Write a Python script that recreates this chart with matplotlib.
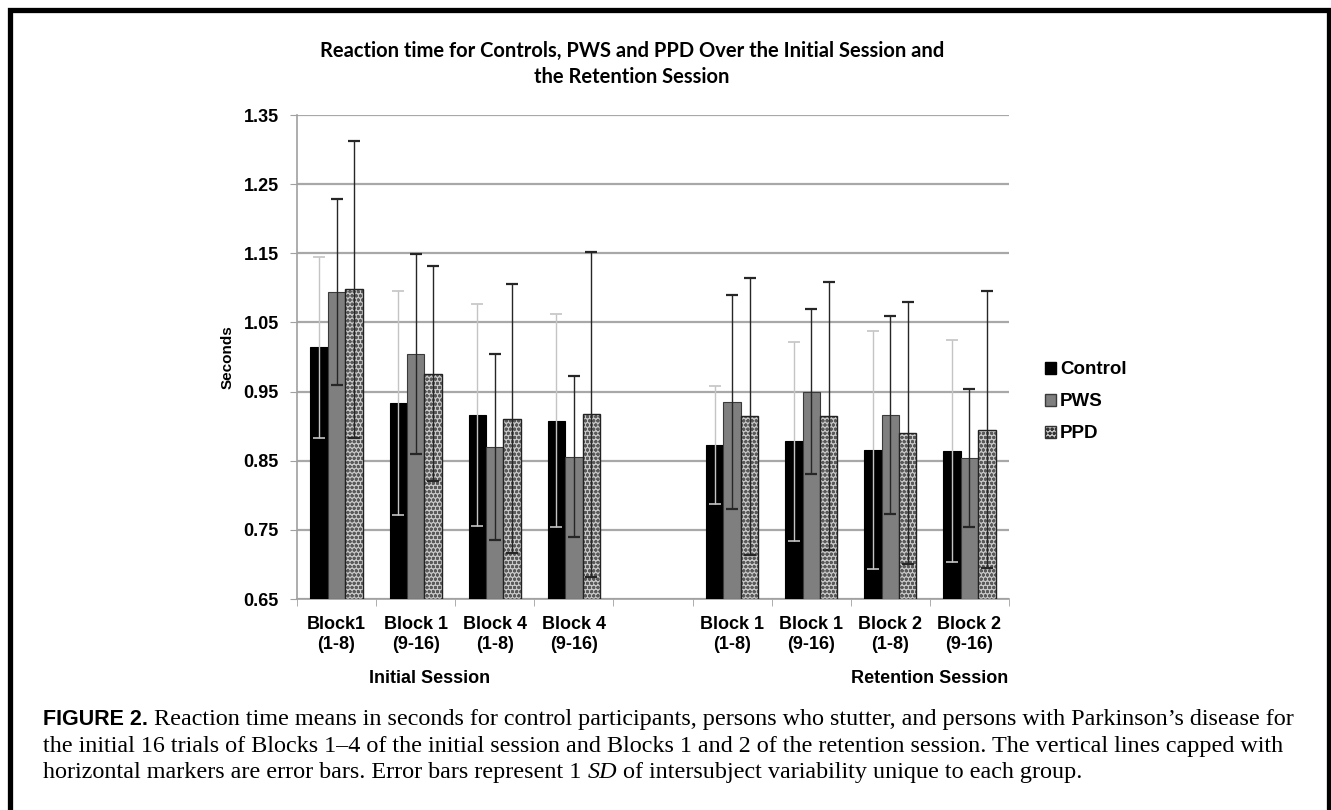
import matplotlib.pyplot as plt
import numpy as np

# category labels (slot 4 is the empty gap between sessions)
cat_labels = ['Block1\n(1-8)', 'Block 1\n(9-16)', 'Block 4\n(1-8)', 'Block 4\n(9-16)', '',
              'Block 1\n(1-8)', 'Block 1\n(9-16)', 'Block 2\n(1-8)', 'Block 2\n(9-16)']
cat_pos = [0, 1, 2, 3, 5, 6, 7, 8]

control_mean = [1.014, 0.934, 0.916, 0.908, 0.873, 0.878, 0.866, 0.864]
control_sd = [0.131, 0.162, 0.161, 0.154, 0.085, 0.144, 0.172, 0.161]
pws_mean = [1.094, 1.004, 0.870, 0.856, 0.935, 0.950, 0.916, 0.854]
pws_sd = [0.134, 0.145, 0.135, 0.117, 0.155, 0.119, 0.143, 0.100]
ppd_mean = [1.098, 0.976, 0.911, 0.917, 0.914, 0.915, 0.890, 0.895]
ppd_sd = [0.215, 0.156, 0.195, 0.235, 0.200, 0.194, 0.190, 0.200]

W, H = 1331, 810
fig = plt.figure(figsize=(W / 100, H / 100), dpi=100)
ax = fig.add_axes([297 / W, 1 - 599 / H, (1009 - 297) / W, (599 - 115) / H])

x = np.array(cat_pos, dtype=float)
bw = 0.22

ax.bar(x - bw, [m - 0.65 for m in control_mean], bw, bottom=0.65, color='black',
       edgecolor='black', linewidth=0.8, label='Control', zorder=3)
ax.bar(x, [m - 0.65 for m in pws_mean], bw, bottom=0.65, color='#7f7f7f',
       edgecolor='#3a3a3a', linewidth=0.8, label='PWS', zorder=3)
ax.bar(x + bw, [m - 0.65 for m in ppd_mean], bw, bottom=0.65, color='#c8c8c8',
       edgecolor='#5a5a5a', hatch='oooo', linewidth=0, zorder=3)
ax.bar(x + bw, [m - 0.65 for m in ppd_mean], bw, bottom=0.65, fill=False,
       edgecolor='#222222', linewidth=1.0, zorder=4)

ax.errorbar(x - bw, control_mean, yerr=control_sd, fmt='none', ecolor='#c4c4c4',
            elinewidth=1.0, capsize=4.5, capthick=1.2, zorder=5)
ax.errorbar(x, pws_mean, yerr=pws_sd, fmt='none', ecolor='#262626',
            elinewidth=1.0, capsize=4.5, capthick=1.6, zorder=5)
ax.errorbar(x + bw, ppd_mean, yerr=ppd_sd, fmt='none', ecolor='#262626',
            elinewidth=1.0, capsize=4.5, capthick=1.6, zorder=5)

ax.set_xlim(-0.5, 8.5)
ax.set_ylim(0.65, 1.35)
ax.set_yticks(np.arange(0.65, 1.3501, 0.1))
ax.set_yticklabels(['%.2f' % v for v in np.arange(0.65, 1.3501, 0.1)],
                   fontfamily='Liberation Sans', fontweight='bold', fontsize=13)
ax.yaxis.grid(True, color='#a8a8a8', linewidth=1.6, zorder=0)
ax.set_axisbelow(True)

ax.set_xticks(range(9))
ax.set_xticklabels(cat_labels, fontfamily='Liberation Sans', fontweight='bold',
                   fontsize=13, linespacing=1.25)
ax.set_xticks(np.arange(-0.5, 9, 1), minor=True)
ax.tick_params(axis='x', which='major', length=0, pad=12)
ax.tick_params(axis='x', which='minor', length=5, color='#a0a0a0', direction='out')
ax.tick_params(axis='y', length=5, color='#a0a0a0', pad=8)

for s in ['top', 'right']:
    ax.spines[s].set_visible(False)
for s in ['left', 'bottom']:
    ax.spines[s].set_color('#a0a0a0')
    ax.spines[s].set_linewidth(1.2)

fig.text(228 / W, 1 - 357 / H, 'Seconds', rotation=90, ha='center', va='center',
         fontfamily='Liberation Sans', fontweight='bold', fontsize=11)
fig.text(430 / W, 1 - 683 / H, 'Initial Session', ha='center', va='baseline',
         fontfamily='Liberation Sans', fontweight='bold', fontsize=13)
fig.text(930 / W, 1 - 683 / H, 'Retention Session', ha='center', va='baseline',
         fontfamily='Liberation Sans', fontweight='bold', fontsize=13)

fig.text(632 / W, 1 - 57 / H,
         'Reaction time for Controls, PWS and PPD Over the Initial Session and',
         ha='center', va='baseline', fontfamily='Lato', fontweight='bold', fontsize=14.5)
fig.text(632 / W, 1 - 83 / H, 'the Retention Session',
         ha='center', va='baseline', fontfamily='Lato', fontweight='bold', fontsize=14.5)

# legend
h1 = plt.Rectangle((0, 0), 1, 1, facecolor='black', edgecolor='black')
h2 = plt.Rectangle((0, 0), 1, 1, facecolor='#7f7f7f', edgecolor='#3a3a3a')
h3 = plt.Rectangle((0, 0), 1, 1, facecolor='#c8c8c8', edgecolor='#333333', hatch='oooo')
fig.legend([h1, h2, h3], ['Control', 'PWS', 'PPD'], loc='center left',
           bbox_to_anchor=(1028 / W, 1 - 402 / H), frameon=False,
           prop={'family': 'Liberation Sans', 'weight': 'bold', 'size': 13.5},
           handlelength=0.6, handleheight=0.6, handletextpad=0.2, labelspacing=0.8)

# caption
cap_y = [725, 752, 778]
serif = 'Liberation Serif'
cap_size = 17.4
renderer = fig.canvas.get_renderer()


def run_text(x0, y, parts):
    # draw consecutive text pieces on one line
    for s, kw in parts:
        t = fig.text(x0 / W, 1 - y / H, s, ha='left', va='baseline', **kw)
        x0 = t.get_window_extent(renderer).x1


run_text(43, cap_y[0], [
    ('FIGURE 2. ', dict(fontfamily='Liberation Sans', fontweight='bold', fontsize=15.5)),
    ('Reaction time means in seconds for control participants, persons who stutter, and persons with Parkinson\u2019s disease for',
     dict(fontfamily=serif, fontsize=cap_size)),
])
run_text(43, cap_y[1], [
    ('the initial 16 trials of Blocks 1\u20134 of the initial session and Blocks 1 and 2 of the retention session. The vertical lines capped with',
     dict(fontfamily=serif, fontsize=cap_size)),
])
run_text(43, cap_y[2], [
    ('horizontal markers are error bars. Error bars represent 1 ', dict(fontfamily=serif, fontsize=cap_size)),
    ('SD', dict(fontfamily=serif, fontstyle='italic', fontsize=cap_size)),
    (' of intersubject variability unique to each group.', dict(fontfamily=serif, fontsize=cap_size)),
])

# outer frame
frame = plt.Rectangle((9.5 / W, -0.05), (1329 - 9.5) / W, 1 - 9.5 / H + 0.05,
                      transform=fig.transFigure, fill=False, edgecolor='black',
                      linewidth=3.8, zorder=10)
fig.patches.append(frame)

fig.savefig('out.png', dpi=100)
